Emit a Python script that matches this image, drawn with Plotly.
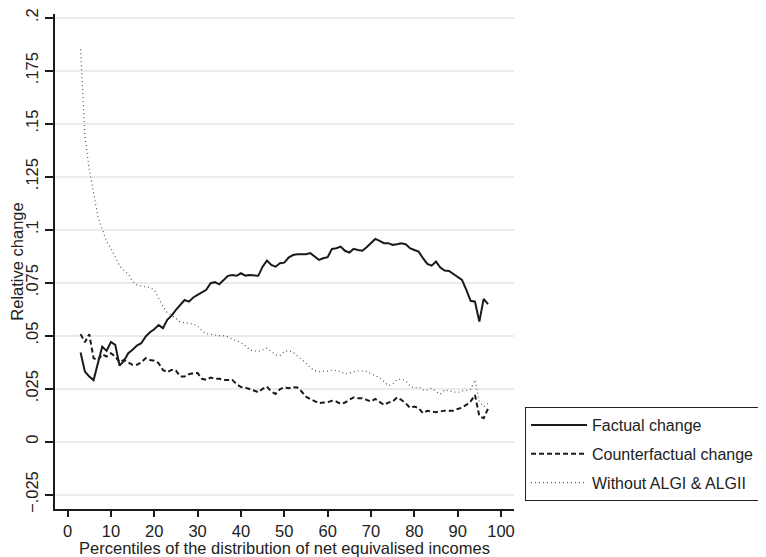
import plotly.graph_objects as go

percentiles = list(range(3, 98))

factual = [
    .042, .033, .0307, .029, .037, .0448, .0428, .047, .0456, .0358,
    .038, .0417, .0433, .0453, .0464, .0495, .0516, .053, .055, .0535,
    .0574, .0594, .0621, .0645, .0668, .066, .068, .0692, .0703, .0716,
    .0747, .0752, .0742, .0763, .0782, .0786, .0782, .0794, .0783, .0786,
    .0783, .0782, .0825, .0854, .0833, .0825, .0841, .0844, .0868, .088,
    .0884, .0885, .0884, .0889, .0873, .0857, .0865, .087, .0909, .0912,
    .092, .09, .0892, .0909, .0904, .09, .0917, .0936, .0956, .0947,
    .0936, .0936, .0928, .0931, .0936, .0931, .0912, .0904, .0896, .0865,
    .0838, .083, .0849, .0821, .0807, .0805, .079, .0774, .0763, .0716,
    .0664, .066, .0566, .0673, .0648,
]

counterfactual = [
    .0507, .0469, .0507, .0393, .0385, .0412, .0401, .0417, .0401, .0374,
    .0385, .0374, .0362, .0362, .0374, .0393, .0385, .0381, .037, .0338,
    .0327, .0338, .0335, .0307, .0307, .0318, .0323, .0323, .0296, .0291,
    .0302, .0296, .0296, .0291, .0291, .0291, .0271, .0257, .0255, .0249,
    .0241, .0233, .0249, .0259, .0236, .0225, .0247, .0257, .0252, .0257,
    .0255, .0236, .0212, .0201, .0189, .0181, .0184, .0186, .0192, .0189,
    .0178, .0184, .0197, .0208, .0205, .0205, .0197, .0189, .0201, .0189,
    .0173, .0184, .0189, .0208, .0197, .0181, .016, .0165, .0158, .0134,
    .0145, .0142, .0139, .0142, .0146, .0145, .0146, .0154, .016, .0173,
    .019, .022, .012, .011, .0155,
]

without_algi = [
    .1851, .1439, .1285, .1168, .1061, .1002, .0943, .0912, .087, .0829,
    .0807, .079, .0755, .0739, .0734, .0731, .0726, .0716, .0679, .0637,
    .0608, .0594, .0582, .0563, .0561, .0558, .0555, .0546, .0522, .0509,
    .0505, .0503, .05, .0499, .0494, .0484, .0475, .0467, .0453, .0433,
    .0428, .0425, .0433, .0441, .0425, .0409, .0406, .0425, .0429, .0422,
    .0404, .0389, .037, .0349, .0335, .033, .033, .0333, .0338, .0335,
    .033, .0319, .0323, .033, .0333, .0333, .033, .0319, .0311, .0302,
    .0283, .0264, .0271, .0292, .0294, .0288, .0263, .0252, .0258, .0244,
    .0244, .0252, .0236, .0224, .0244, .0239, .0236, .0231, .0239, .0241,
    .0247, .0291, .019, .0165, .018,
]

x_ticks = list(range(0, 101, 10))
y_ticks = [-0.025, 0, 0.025, 0.05, 0.075, 0.1, 0.125, 0.15, 0.175, 0.2]
y_tick_labels = ["\u2212.025", "0", ".025", ".05", ".075", ".1", ".125", ".15", ".175", ".2"]

FONT = "Liberation Sans, Arial, Helvetica, sans-serif"
TXT = "#222222"
FS = 16.5

fig = go.Figure()
fig.add_trace(go.Scatter(x=percentiles, y=factual, mode="lines", name="Factual change",
                         legendgroup="a",
                         line=dict(color="#1a1a1a", width=2)))
fig.add_trace(go.Scatter(x=percentiles, y=counterfactual, mode="lines", name="Counterfactual change",
                         legendgroup="b",
                         line=dict(color="#1a1a1a", width=2, dash="5px,3px")))
fig.add_trace(go.Scatter(x=percentiles, y=without_algi, mode="lines", name="Without ALGI & ALGII",
                         legendgroup="c",
                         line=dict(color="#555555", width=1.2, dash="1px,3px")))

# page body has an 8px margin, so the figure is shrunk by 8px and margins shifted
fig.update_layout(
    width=758, height=549,
    margin=dict(l=47, r=248, t=6, b=48),
    paper_bgcolor="white", plot_bgcolor="white",
    font=dict(family=FONT, size=FS, color=TXT),
    showlegend=True,
    legend=dict(
        x=1.024, y=0.206, xanchor="left", yanchor="top",
        bordercolor="#222222", borderwidth=1, bgcolor="white",
        font=dict(family=FONT, size=16, color=TXT),
        tracegroupgap=5, itemwidth=56,
    ),
)
fig.update_xaxes(
    automargin=False,
    range=[-2.9, 103], tickmode="array", tickvals=x_ticks,
    showgrid=False, zeroline=False,
    showline=True, linecolor="#1a1a1a", linewidth=2,
    ticks="outside", ticklen=6, tickwidth=1.5, tickcolor="#1a1a1a",
    tickfont=dict(size=FS, color=TXT),
    title=dict(text="Percentiles of the distribution of net equivalised incomes",
               font=dict(size=FS, color=TXT), standoff=0),
)
fig.update_yaxes(
    automargin=False,
    range=[-0.0318, 0.2017], tickmode="array", tickvals=y_ticks, ticktext=y_tick_labels,
    tickangle=-90,
    showgrid=True, gridcolor="#ebebeb", gridwidth=1.5, zeroline=False,
    showline=True, linecolor="#1a1a1a", linewidth=2,
    ticks="outside", ticklen=8, tickwidth=1.5, tickcolor="#1a1a1a",
    tickfont=dict(size=FS, color=TXT),
    title=dict(text="Relative change", font=dict(size=FS, color=TXT), standoff=2),
)

fig.write_html("out.html")
